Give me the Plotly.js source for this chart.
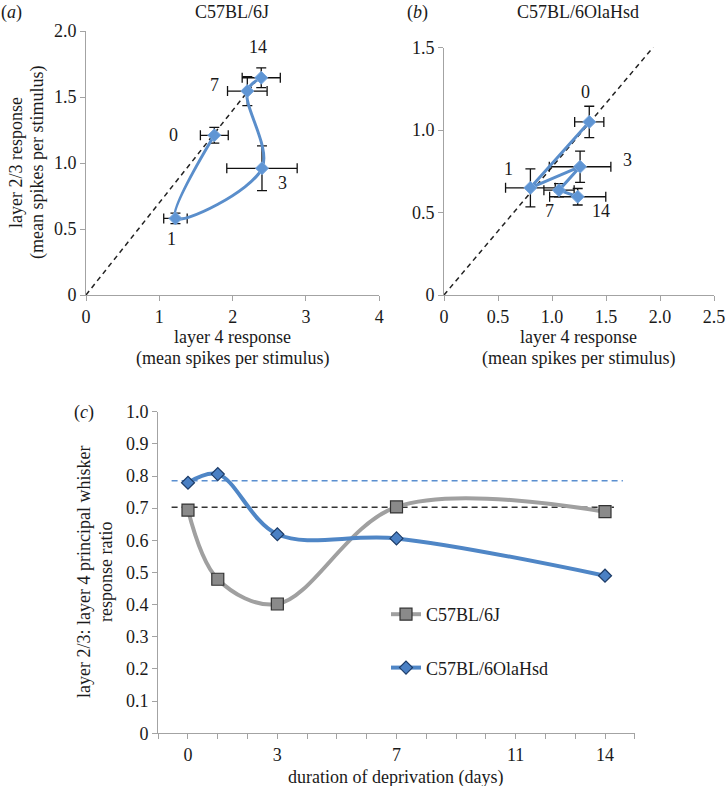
<!DOCTYPE html>
<html>
<head>
<meta charset="utf-8">
<script src="https://cdn.plot.ly/plotly-3.0.1.min.js"></script>
<style>
  html, body { margin: 0; padding: 0; background: #fff; }
  #chart { width: 726px; height: 786px; }
</style>
</head>
<body>
<div id="chart"></div>
<script>
// ---------- data ----------
// Panel (a) C57BL/6J : layer 4 vs layer 2/3 response
const daysLabels = ['0', '1', '3', '7', '14'];
const aL4 = [1.75, 1.22, 2.40, 2.20, 2.39];
const aL23 = [1.21, 0.58, 0.96, 1.545, 1.646];
const aL4Err = [0.19, 0.16, 0.48, 0.27, 0.26];
const aL23Err = [0.06, 0.04, 0.17, 0.11, 0.075];
const aRefX = [0, 2.36];
const aRefY = [0, 1.65];

// Panel (b) C57BL/6OlaHsd
const bL4 = [1.345, 0.80, 1.26, 1.065, 1.238];
const bL23 = [1.05, 0.65, 0.778, 0.636, 0.596];
const bL4Err = [0.135, 0.23, 0.285, 0.14, 0.26];
const bL23Err = [0.095, 0.115, 0.095, 0.04, 0.05];
const bRefX = [0, 1.94];
const bRefY = [0, 1.505];

// Panel (c) ratio vs duration of deprivation
const cDays = [0, 1, 3, 7, 14];
const cB6J = [0.694, 0.479, 0.402, 0.704, 0.689];
const cOla = [0.779, 0.806, 0.619, 0.606, 0.49];
const cRefSpan = [-0.55, 14.6];
const cRefSpanB6J = [-0.55, 14.3];
const cOlaBase = [0.785, 0.785];
const cB6JBase = [0.703, 0.703];

// tick labels
const aXTicks = [0, 1, 2, 3, 4];
const aXText = ['0', '1', '2', '3', '4'];
const aYTicks = [0, 0.5, 1.0, 1.5, 2.0];
const aYText = ['0', '0.5', '1.0', '1.5', '2.0'];
const bXTicks = [0, 0.5, 1.0, 1.5, 2.0, 2.5];
const bXText = ['0', '0.5', '1.0', '1.5', '2.0', '2.5'];
const bYTicks = [0, 0.5, 1.0, 1.5];
const bYText = ['0', '0.5', '1.0', '1.5'];
const cXTicks = [-1, 0, 1, 2, 3, 4, 5, 6, 7, 8, 9, 10, 11, 12, 13, 14, 15];
const cXText = ['', '0', '', '', '3', '', '', '', '7', '', '', '', '11', '', '', '14', ''];
const cYTicks = [0, 0.1, 0.2, 0.3, 0.4, 0.5, 0.6, 0.7, 0.8, 0.9, 1.0];
const cYText = ['0', '0.1', '0.2', '0.3', '0.4', '0.5', '0.6', '0.7', '0.8', '0.9', '1.0'];

// ---------- styles ----------
const FONT = 'Liberation Serif, Times New Roman, serif';
const FS = 18;
const AXC = '#a3a3a3';
const PT_BLUE = '#5f95d4';
const LINE_BLUE = '#5a8ecb';
const C_BLUE_LINE = '#4f86c6';
const C_BLUE_FILL = '#4a80c4';
const GRAY_LINE = '#a0a0a0';
const GRAY_FILL = '#8a8a8a';

const W = 726, H = 786;
const px = x => x / W;
const py = y => 1 - y / H;

function axis(extra) {
  return Object.assign({
    showline: true, linecolor: AXC, linewidth: 1,
    ticks: 'outside', ticklen: 5, tickcolor: AXC, tickwidth: 1,
    showgrid: false, zeroline: false, automargin: false,
    tickfont: { family: FONT, size: FS, color: '#1a1a1a' },
    tickmode: 'array', fixedrange: true
  }, extra);
}

const errStyle = { color: '#111', thickness: 1.3, width: 5 };

const traces = [
  // panel a
  { x: aRefX, y: aRefY, xaxis: 'x', yaxis: 'y', mode: 'lines', showlegend: false,
    line: { color: '#222', width: 1.5, dash: '5px,4px' }, hoverinfo: 'skip' },
  { x: aL4, y: aL23, xaxis: 'x', yaxis: 'y', mode: 'lines+markers', showlegend: false,
    line: { color: LINE_BLUE, width: 3, shape: 'spline', smoothing: 1 },
    marker: { symbol: 'diamond', size: 10, color: PT_BLUE, line: { color: '#7aa8de', width: 1 } },
    error_x: Object.assign({ type: 'data', array: aL4Err, visible: true }, errStyle),
    error_y: Object.assign({ type: 'data', array: aL23Err, visible: true }, errStyle) },
  // panel b
  { x: bRefX, y: bRefY, xaxis: 'x2', yaxis: 'y2', mode: 'lines', showlegend: false,
    line: { color: '#222', width: 1.5, dash: '5px,4px' }, hoverinfo: 'skip' },
  { x: bL4, y: bL23, xaxis: 'x2', yaxis: 'y2', mode: 'lines+markers', showlegend: false,
    line: { color: LINE_BLUE, width: 3 },
    marker: { symbol: 'diamond', size: 10, color: PT_BLUE, line: { color: '#7aa8de', width: 1 } },
    error_x: Object.assign({ type: 'data', array: bL4Err, visible: true }, errStyle),
    error_y: Object.assign({ type: 'data', array: bL23Err, visible: true }, errStyle) },
  // panel c baselines
  { x: cRefSpan, y: cOlaBase, xaxis: 'x3', yaxis: 'y3', mode: 'lines', showlegend: false,
    line: { color: '#5b8fd0', width: 1.5, dash: '6px,4px' }, hoverinfo: 'skip' },
  { x: cRefSpanB6J, y: cB6JBase, xaxis: 'x3', yaxis: 'y3', mode: 'lines', showlegend: false,
    line: { color: '#333', width: 1.5, dash: '6px,4px' }, hoverinfo: 'skip' },
  // panel c series
  { x: cDays, y: cB6J, xaxis: 'x3', yaxis: 'y3', mode: 'lines+markers', name: 'C57BL/6J',
    legendgroup: 'g1',
    line: { color: GRAY_LINE, width: 4, shape: 'spline', smoothing: 1 },
    marker: { symbol: 'square', size: 12, color: GRAY_FILL, line: { color: '#333', width: 1.2 } } },
  { x: cDays, y: cOla, xaxis: 'x3', yaxis: 'y3', mode: 'lines+markers', name: 'C57BL/6OlaHsd',
    legendgroup: 'g2',
    line: { color: C_BLUE_LINE, width: 4, shape: 'spline', smoothing: 1 },
    marker: { symbol: 'diamond', size: 10, color: C_BLUE_FILL, line: { color: '#1d3c68', width: 1.2 } } }
];

const annFont = { family: FONT, size: FS, color: '#1a1a1a' };
const annotations = [];
function addText(text, x, y, extra) {
  annotations.push(Object.assign({ text: text, xref: 'paper', yref: 'paper', x: px(x), y: py(y),
    xanchor: 'center', yanchor: 'middle', showarrow: false, font: annFont }, extra || {}));
}
// panel labels and titles
addText('(<i>a</i>)', 11, 12);
addText('C57BL/6J', 232, 12);
addText('(<i>b</i>)', 417, 12);
addText('C57BL/6OlaHsd', 578, 12);
addText('(<i>c</i>)', 84, 412);
// axis titles
addText('layer 4 response', 232, 337);
addText('(mean spikes per stimulus)', 232, 358);
addText('layer 4 response', 578, 337);
addText('(mean spikes per stimulus)', 578, 358);
addText('layer 2/3 response', 16, 163, { textangle: -90 });
addText('(mean spikes per stimulus)', 37, 163, { textangle: -90 });
addText('layer 2/3: layer 4 principal whisker', 84, 572, { textangle: -90 });
addText('response ratio', 106, 572, { textangle: -90 });
addText('duration of deprivation (days)', 396, 777);

// day labels next to points (pixel offsets)
const aShift = [[-41, 0], [-4, -21], [21, -15], [-33, 6], [-3, 31]];
const bShift = [[-4, 30], [-22, 19], [47, 7], [-10, -21], [23, -14]];
daysLabels.forEach((t, i) => {
  annotations.push({ text: t, xref: 'x', yref: 'y', x: aL4[i], y: aL23[i], showarrow: false,
    xshift: aShift[i][0], yshift: aShift[i][1], font: annFont });
  annotations.push({ text: t, xref: 'x2', yref: 'y2', x: bL4[i], y: bL23[i], showarrow: false,
    xshift: bShift[i][0], yshift: bShift[i][1], font: annFont });
});

const layout = {
  width: W, height: H,
  margin: { l: 0, r: 0, t: 0, b: 0, autoexpand: false },
  paper_bgcolor: '#fff', plot_bgcolor: 'rgba(0,0,0,0)',
  font: { family: FONT, size: FS, color: '#1a1a1a' },
  xaxis: axis({ domain: [px(86), px(379.3)], range: [0, 4], tickvals: aXTicks, ticktext: aXText, anchor: 'y' }),
  yaxis: axis({ domain: [py(295), py(31)], range: [0, 2.0], tickvals: aYTicks, ticktext: aYText, anchor: 'x' }),
  xaxis2: axis({ domain: [px(444), px(714)], range: [0, 2.5], tickvals: bXTicks, ticktext: bXText, anchor: 'y2' }),
  yaxis2: axis({ domain: [py(295), py(47.7)], range: [0, 1.5], tickvals: bYTicks, ticktext: bYText, anchor: 'x2' }),
  xaxis3: axis({ domain: [px(158.2), px(634.8)], range: [-1, 15], tickvals: cXTicks, ticktext: cXText, anchor: 'y3' }),
  yaxis3: axis({ domain: [py(733.3), py(411.7)], range: [0, 1.0], tickvals: cYTicks, ticktext: cYText, anchor: 'x3' }),
  showlegend: true,
  legend: { x: px(386), y: py(596), xanchor: 'left', yanchor: 'top', bgcolor: 'rgba(0,0,0,0)',
    font: { family: FONT, size: FS, color: '#1a1a1a' }, tracegroupgap: 27, traceorder: 'grouped' },
  annotations: annotations
};

Plotly.newPlot('chart', traces, layout, { staticPlot: true, displayModeBar: false });
</script>
</body>
</html>
